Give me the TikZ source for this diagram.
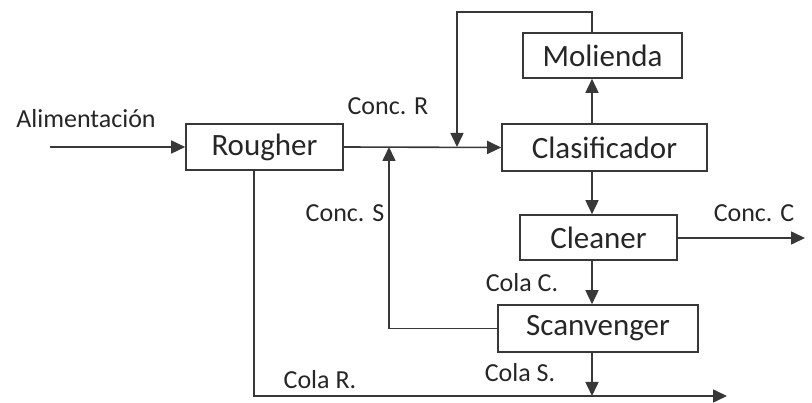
\documentclass[tikz,border=0pt]{standalone}
\usepackage{fontspec}
\setmainfont{Carlito}
\usetikzlibrary{arrows.meta}
\definecolor{ln}{HTML}{383838}
\tikzset{
  unit/.style={draw=ln, line width=1.6pt, rectangle, inner sep=0pt, font=\fontsize{31}{31}\selectfont, text=black!85},
  lbl/.style={inner sep=0pt, font=\fontsize{26}{26}\selectfont, text=black!85},
  flow/.style={draw=ln, line width=1.6pt, -{Triangle[length=14pt,width=13pt]}},
  plain/.style={draw=ln, line width=1.6pt}
}
\begin{document}
\begin{tikzpicture}[x=1pt,y=-1pt]
\useasboundingbox (0,0) rectangle (812,403);
% units
\node[unit, minimum width=157pt, minimum height=46pt] (rougher) at (264.5,147) {Rougher};
\node[unit, minimum width=205pt, minimum height=47pt] (clas) at (604.5,147.5) {Clasificador};
\node[unit, minimum width=159pt, minimum height=45pt] (mol) at (602.5,55.5) {Molienda};
\node[unit, minimum width=157pt, minimum height=45pt] (clean) at (598.5,237.5) {Cleaner};
\node[unit, minimum width=200pt, minimum height=47pt] (scan) at (598,328.5) {Scanvenger};
% coordinates
\coordinate (feed) at (50,147);
\coordinate (colx) at (592,0);
\coordinate (toprt) at (592,12);
\coordinate (toplf) at (457,12);
\coordinate (mergeM) at (457,147);
\coordinate (sx) at (389,328.5);
\coordinate (mergeS) at (389,147);
\coordinate (rx) at (254,0);
\coordinate (botl) at (254,396);
\coordinate (botr) at (727,396);
\coordinate (botm) at (592,396);
\coordinate (concC) at (805,238);
% labels
\node[lbl] (lalim) at (86,119) {Alimentación};
\node[lbl] (lconcR) at (388,106) {Conc. R};
\node[lbl] (lconcS) at (345,213) {Conc. S};
\node[lbl] (lconcC) at (754,213) {Conc. C};
\node[lbl] (lcolaC) at (522,283) {Cola C.};
\node[lbl] (lcolaS) at (520,373) {Cola S.};
\node[lbl] (lcolaR) at (320,380) {Cola R.};
% flows
\draw[flow] (feed) -- (rougher.west);
\draw[flow] (rougher.east) -- (clas.west);
\draw[flow] (clas.north -| colx) -- (mol.south -| colx);
\draw[flow] (mol.north -| colx) -- (toprt) -- (toplf) -- (mergeM);
\draw[flow] (clas.south -| colx) -- (clean.north -| colx);
\draw[flow] (clean.east |- concC) -- (concC);
\draw[flow] (clean.south -| colx) -- (scan.north -| colx);
\draw[flow] (scan.west) -- (sx) -- (mergeS);
\draw[flow] (rougher.south -| rx) -- (botl) -- (botr);
\draw[flow] (scan.south -| colx) -- (botm);
\end{tikzpicture}
\end{document}
